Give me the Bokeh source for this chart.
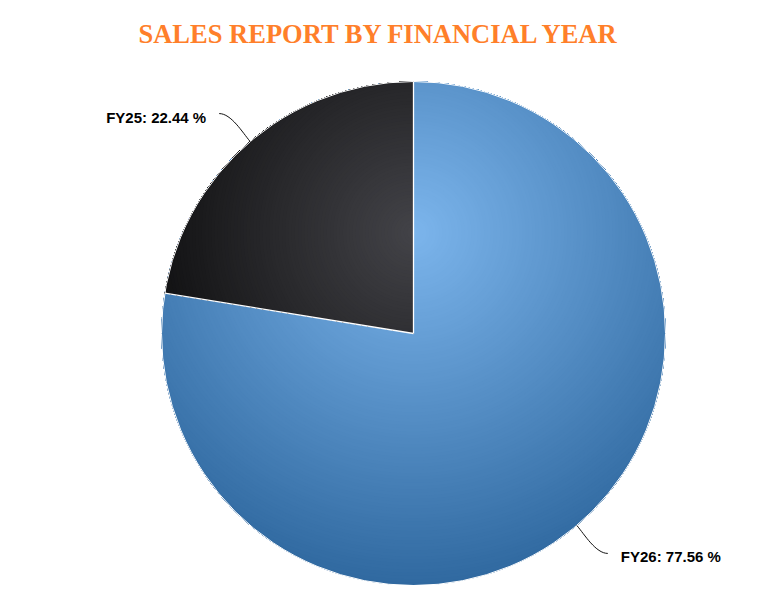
import numpy as np
from bokeh.plotting import figure
from bokeh.models import Range1d
from bokeh.core.properties import value
from bokeh.embed import file_html
from bokeh.resources import INLINE

# ---------------- data ----------------
categories = ["FY26", "FY25"]
shares = [77.56, 22.44]
base_colors = ["#7cb5ec", "#434348"]
title_text = "SALES REPORT BY FINANCIAL YEAR"

# ---------------- layout (screen-like px coords, y up) ----------------
W, H = 769, 601
CX, CY, R = 413.0, 268.0, 252.0          # pie centre / radius
GX, GY = CX, CY + R - 0.3 * 2 * R         # radial gradient centre (cx .5, cy .3)
RG = 0.7 * 2 * R                          # radial gradient radius (r .7)

p = figure(width=753, height=585, x_range=Range1d(0, 753), y_range=Range1d(16, 601),
           output_backend="svg", toolbar_location=None, min_border=0,
           x_axis_location=None, y_axis_location=None)
p.grid.visible = False
p.outline_line_color = None
p.background_fill_color = "white"
p.border_fill_color = "white"


def hex2rgb(h):
    h = h.lstrip("#")
    return np.array([int(h[i:i + 2], 16) for i in (0, 2, 4)], dtype=float)


def darker(rgb):
    return np.clip(rgb - 76, 0, 255)


def to_hex(rgb):
    r, g, b = [int(round(v)) for v in rgb]
    return "#%02x%02x%02x" % (r, g, b)


fr = np.array(shares) / sum(shares)
cum = np.concatenate([[0], np.cumsum(fr)])
starts = np.pi / 2 - 2 * np.pi * cum[:-1]   # clockwise from 12 o'clock
ends = np.pi / 2 - 2 * np.pi * cum[1:]

# base slices (darkest gradient colour)
p.wedge(x=[CX] * len(shares), y=[CY] * len(shares), radius=R,
        start_angle=list(ends), end_angle=list(starts), direction="anticlock",
        fill_color=[to_hex(darker(hex2rgb(c))) for c in base_colors],
        line_color="white", line_width=1)


def norm_ang(a):
    return np.mod(a, 2 * np.pi)


def region(i):
    lo, hi = ends[i], starts[i]
    span = hi - lo
    if span > np.pi:      # big slice: clip to full disc (small slices drawn on top)
        th = np.linspace(0, 2 * np.pi, 1441)[:-1]
        bpts = np.c_[CX + R * np.cos(th), CY + R * np.sin(th)]

        def inside(pts):
            return np.hypot(pts[:, 0] - CX, pts[:, 1] - CY) <= R + 1e-9
        return bpts, inside
    s = np.linspace(0, R, 200)
    arc = np.linspace(lo, hi, 500)
    bpts = np.vstack([
        np.c_[CX + s * np.cos(lo), CY + s * np.sin(lo)],
        np.c_[CX + R * np.cos(arc), CY + R * np.sin(arc)],
        np.c_[CX + s[::-1] * np.cos(hi), CY + s[::-1] * np.sin(hi)],
    ])

    def inside(pts):
        d = np.hypot(pts[:, 0] - CX, pts[:, 1] - CY)
        a = norm_ang(np.arctan2(pts[:, 1] - CY, pts[:, 0] - CX) - lo)
        return (d <= R + 1e-9) & (a <= span + 1e-9)
    return bpts, inside


order = sorted(range(len(shares)), key=lambda i: -(starts[i] - ends[i]))
NL = 110
th = np.linspace(0, 2 * np.pi, 721)[:-1]
for i in order:
    c0 = hex2rgb(base_colors[i])
    c1 = darker(c0)
    bpts, inside = region(i)
    xs, ys, cols = [], [], []
    for k in range(NL, 0, -1):
        t = k / NL
        r = t * RG
        cpts = np.c_[GX + r * np.cos(th), GY + r * np.sin(th)]
        k1 = cpts[inside(cpts)]
        k2 = bpts[np.hypot(bpts[:, 0] - GX, bpts[:, 1] - GY) <= r]
        pts = np.vstack([k1, k2])
        if len(pts) < 3:
            continue
        m = pts.mean(axis=0)
        o = np.argsort(np.arctan2(pts[:, 1] - m[1], pts[:, 0] - m[0]))
        pts = pts[o]
        tm = t - 0.5 / NL
        xs.append(list(pts[:, 0]))
        ys.append(list(pts[:, 1]))
        cols.append(to_hex(c0 + (c1 - c0) * tm))
    p.patches(xs=xs, ys=ys, fill_color=cols, line_color=None)

# white slice borders
bang = list(starts)
p.segment(x0=[CX] * len(bang), y0=[CY] * len(bang),
          x1=[CX + R * np.cos(a) for a in bang], y1=[CY + R * np.sin(a) for a in bang],
          line_color="white", line_width=1.3)
p.circle(x=[CX], y=[CY], radius=R, fill_color=None, line_color="white", line_width=1)

# connectors and labels
mids = (starts + ends) / 2
for i, m in enumerate(mids):
    ux, uy = np.cos(m), np.sin(m)
    sx, sy = np.sign(ux), np.sign(uy)
    ex, ey = CX + R * ux, CY + R * uy
    lx, ly = ex + sx * 31, ey + sy * 28
    p.bezier(x0=[lx], y0=[ly], x1=[ex], y1=[ey],
             cx0=[lx - sx * 12], cy0=[ly], cx1=[ex + ux * 12], cy1=[ey + uy * 12],
             line_color="#111111", line_width=1)
    txt = f"{categories[i]}: {shares[i]:.2f} %"
    p.text(x=[lx + sx * 13], y=[ly - 3.5], text=[txt],
           text_align="left" if sx > 0 else "right", text_baseline="alphabetic",
           text_font=value("Liberation Sans"), text_font_style="bold",
           text_font_size="15px", text_color="#000000")

# title
p.text(x=[379], y=[H - 33.5], text=[title_text], text_align="center",
       text_baseline="alphabetic", text_font=value("Liberation Serif"),
       text_font_style="bold", text_font_size="26.5px", text_color="#ff7f2a")

open("out.html", "w").write(file_html(p, INLINE))
